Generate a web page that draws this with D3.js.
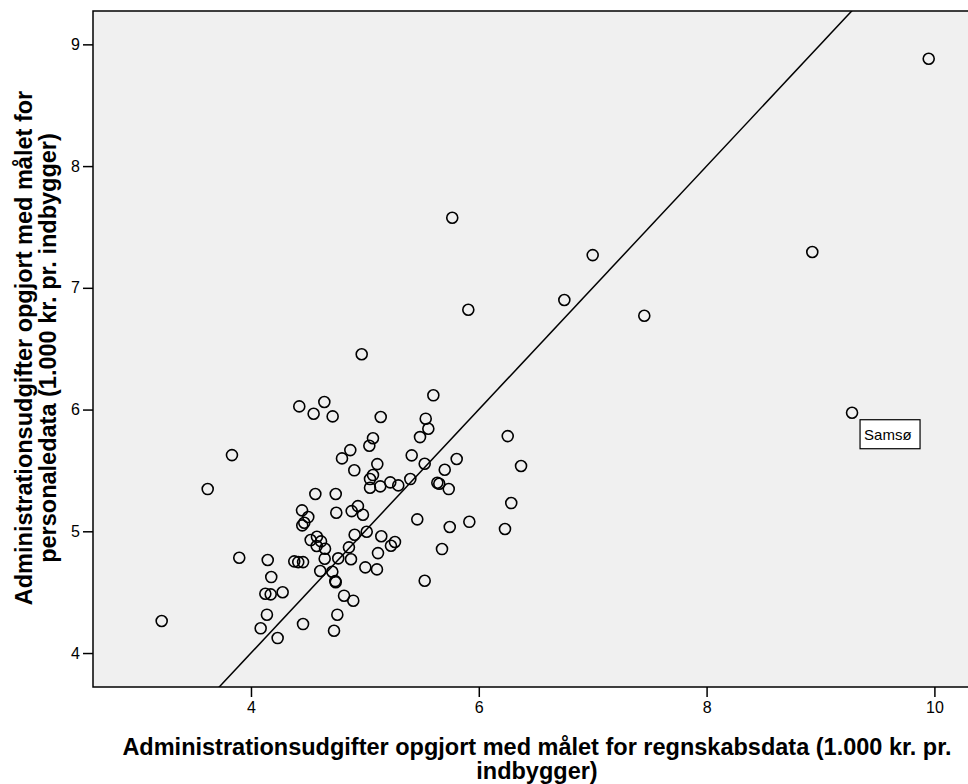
<!DOCTYPE html>
<meta charset="utf-8">
<head>
  <title>Administrationsudgifter</title>
  <style>
    body { margin: 0; background: #fff; }
    svg { display: block; font-family: "Liberation Sans", Arial, sans-serif; }
    .tick line { stroke: #000; stroke-width: 1.5px; }
    .axis-title { font-size: 23.5px; font-weight: bold; fill: #000; }
    .dot { fill: none; stroke: #000; stroke-width: 1.6px; }
    .ref { stroke: #000; stroke-width: 1.5px; fill: none; }
  </style>
</head>
<body>
  <svg width="968" height="784"></svg>
  <script src="https://d3js.org/d3.v7.min.js"></script>
  <script>
    // regnskabsdata (x) og personaledata (y), 1.000 kr. pr. indbygger
    var regnskab = [
      3.216, 3.620, 3.833, 3.897, 4.085, 4.140, 4.147, 4.178, 4.126, 4.173,
      4.234, 4.278, 4.380, 4.415, 4.457, 4.424, 4.550, 4.644, 4.717, 4.448,
      4.503, 4.468, 4.450, 4.565, 4.744, 4.749, 4.457, 4.524, 4.579, 4.615,
      4.577, 4.650, 4.647, 4.608, 4.714, 4.740, 4.744, 4.817, 4.898, 4.758,
      4.729, 4.766, 4.860, 4.878, 4.910, 5.004, 5.106, 5.115, 5.016, 5.144,
      5.229, 5.264, 4.799, 4.872, 4.907, 4.884, 4.939, 4.983, 5.039, 5.071,
      5.109, 5.071, 5.045, 5.045, 5.135, 5.139, 5.223, 5.293, 5.399, 5.411,
      5.484, 5.534, 5.557, 5.601, 5.525, 5.636, 5.653, 5.701, 5.736, 5.806,
      5.460, 5.745, 5.917, 6.230, 6.285, 6.254, 6.371, 5.677, 5.525, 5.767,
      7.000, 6.751, 5.908, 4.972, 7.453, 8.928, 9.950, 9.277
    ];
    var personale = [
      4.263, 5.347, 5.626, 4.783, 4.203, 4.315, 4.764, 4.624, 4.487, 4.482,
      4.123, 4.499, 4.753, 4.747, 4.747, 6.026, 5.966, 6.062, 5.944, 5.172,
      5.117, 5.070, 5.049, 5.306, 5.306, 5.152, 4.238, 4.928, 4.955, 4.917,
      4.879, 4.857, 4.775, 4.674, 4.668, 4.591, 4.581, 4.471, 4.430, 4.315,
      4.183, 4.778, 4.868, 4.770, 4.972, 4.704, 4.687, 4.821, 4.996, 4.959,
      4.881, 4.912, 5.599, 5.667, 5.501, 5.166, 5.207, 5.136, 5.703, 5.764,
      5.552, 5.462, 5.429, 5.358, 5.369, 5.939, 5.402, 5.377, 5.429, 5.624,
      5.774, 5.925, 5.842, 6.117, 5.555, 5.399, 5.391, 5.506, 5.347, 5.594,
      5.098, 5.035, 5.078, 5.019, 5.232, 5.782, 5.536, 4.854, 4.594, 7.576,
      7.269, 6.900, 6.820, 6.454, 6.771, 7.294, 8.882, 5.974
    ];
    var labelled = { index: 97, name: "Samsø" };

    var xTicks = [4, 6, 8, 10],
        yTicks = [4, 5, 6, 7, 8, 9];

    var svg = d3.select("svg"),
        pLeft = 93, pTop = 11, pRight = 968, pBottom = 687;

    var x = d3.scaleLinear().domain([2.613, 10.295]).range([pLeft, pRight]);
    var y = d3.scaleLinear().domain([3.721, 9.274]).range([pBottom, pTop]);

    svg.append("clipPath").attr("id", "plot")
      .append("rect")
        .attr("x", pLeft).attr("y", pTop)
        .attr("width", pRight - pLeft).attr("height", pBottom - pTop);

    svg.append("rect")
        .attr("x", pLeft).attr("y", pTop)
        .attr("width", pRight - pLeft + 20).attr("height", pBottom - pTop)
        .attr("fill", "#f0f0f0")
        .attr("stroke", "#000")
        .attr("stroke-width", 1.5);

    var xAxis = svg.append("g")
        .attr("transform", "translate(0," + pBottom + ")")
        .call(d3.axisBottom(x).tickValues(xTicks).tickFormat(d3.format("d"))
          .tickSize(10).tickPadding(5));
    xAxis.select(".domain").remove();

    var yAxis = svg.append("g")
        .attr("transform", "translate(" + pLeft + ",0)")
        .call(d3.axisLeft(y).tickValues(yTicks).tickFormat(d3.format("d"))
          .tickSize(10).tickPadding(3));
    yAxis.select(".domain").remove();

    svg.selectAll(".tick text")
        .attr("font-size", null)
        .style("font-size", "16px")
        .attr("fill", "#000");

    // identitetslinje y = x
    var lo = Math.min(x.domain()[0], y.domain()[0]),
        hi = Math.max(x.domain()[1], y.domain()[1]);
    svg.append("line")
        .attr("class", "ref")
        .attr("clip-path", "url(#plot)")
        .attr("x1", x(lo)).attr("y1", y(lo))
        .attr("x2", x(hi)).attr("y2", y(hi));

    svg.append("g").selectAll("circle")
      .data(regnskab)
      .join("circle")
        .attr("class", "dot")
        .attr("cx", function(d) { return x(d); })
        .attr("cy", function(d, i) { return y(personale[i]); })
        .attr("r", 5.5);

    var lx = x(regnskab[labelled.index]) + 8,
        ly = y(personale[labelled.index]) + 7;
    var lab = svg.append("g").attr("transform", "translate(" + lx + "," + ly + ")");
    lab.append("rect")
        .attr("width", 60).attr("height", 29)
        .attr("fill", "#fff").attr("stroke", "#000").attr("stroke-width", 1.2);
    lab.append("text")
        .attr("x", 4).attr("y", 20)
        .style("font-size", "15px")
        .text(labelled.name);

    var xt = svg.append("text")
        .attr("class", "axis-title")
        .attr("text-anchor", "middle");
    xt.append("tspan").attr("x", 537).attr("y", 755)
        .text("Administrationsudgifter opgjort med målet for regnskabsdata (1.000 kr. pr.");
    xt.append("tspan").attr("x", 537).attr("y", 779)
        .text("indbygger)");

    var yt = svg.append("text")
        .attr("class", "axis-title")
        .attr("text-anchor", "middle")
        .attr("transform", "rotate(-90)");
    yt.append("tspan").attr("x", -348).attr("y", 32)
        .text("Administrationsudgifter opgjort med målet for");
    yt.append("tspan").attr("x", -348).attr("y", 56)
        .text("personaledata (1.000 kr. pr. indbygger)");
  </script>
</body>
</html>
